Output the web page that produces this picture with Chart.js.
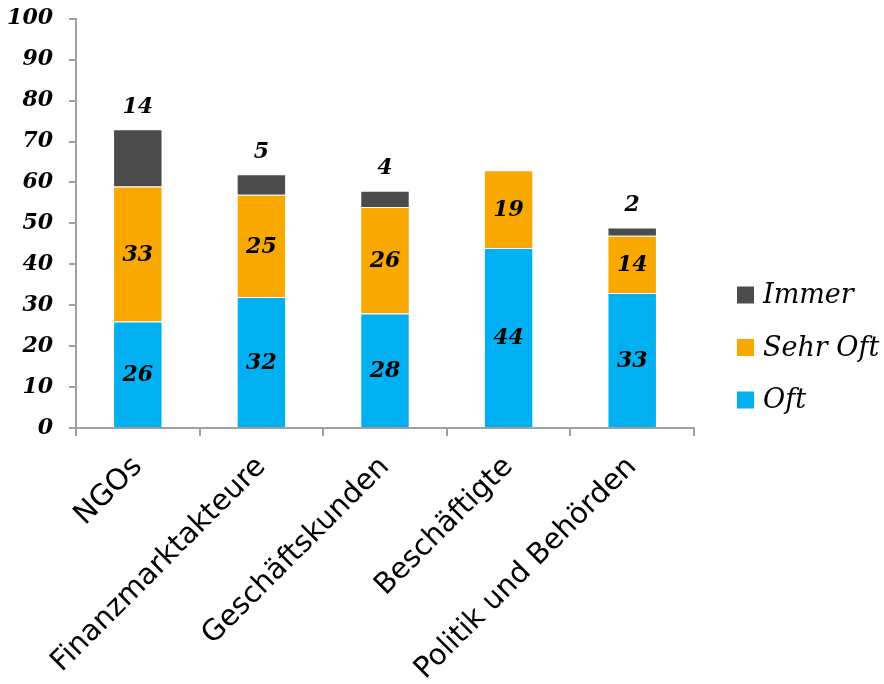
<!DOCTYPE html>
<html>
<head>
<meta charset="utf-8">
<script src="https://cdn.jsdelivr.net/npm/chart.js@4/dist/chart.umd.min.js"></script>
<style>
  html, body { margin: 0; padding: 0; background: #ffffff; }
  #wrap { width: 884px; height: 684px; }
</style>
</head>
<body>
<div id="wrap"><canvas id="c" width="884" height="684"></canvas></div>
<script>
const categories = ['NGOs', 'Finanzmarktakteure', 'Geschäftskunden', 'Beschäftigte', 'Politik und Behörden'];
const seriesNames = ['Oft', 'Sehr Oft', 'Immer'];
const oftValues = [26, 32, 28, 44, 33];
const sehrOftValues = [33, 25, 26, 19, 14];
const immerValues = [14, 5, 4, null, 2];
const yMin = 0;
const yMax = 100;
const yStep = 10;

const labelFont = 'italic bold 22px "DejaVu Serif"';

const dataLabelPlugin = {
  id: 'dataLabels',
  afterDatasetsDraw(chart) {
    const ctx = chart.ctx;
    ctx.save();
    ctx.font = labelFont;
    ctx.fillStyle = '#000000';
    ctx.textAlign = 'center';
    ctx.textBaseline = 'middle';
    chart.data.datasets.forEach((ds, di) => {
      const meta = chart.getDatasetMeta(di);
      meta.data.forEach((bar, i) => {
        const v = ds.data[i];
        if (v === null || v === undefined || v === 0) return;
        const props = bar.getProps(['x', 'y', 'base'], true);
        if (di < 2) {
          ctx.fillText(String(v), props.x, (props.y + props.base) / 2 + 1);
        } else {
          ctx.fillText(String(v), props.x, props.y - 22);
        }
      });
    });
    ctx.restore();
  }
};

const sideLegendPlugin = {
  id: 'sideLegend',
  afterDraw(chart) {
    const ctx = chart.ctx;
    ctx.save();
    ctx.font = 'italic 27px "DejaVu Serif"';
    ctx.textAlign = 'left';
    ctx.textBaseline = 'middle';
    const order = [2, 1, 0];
    const x = 737;
    const y0 = 295;
    const step = 52.5;
    order.forEach((di, k) => {
      const ds = chart.data.datasets[di];
      const cy = y0 + k * step;
      ctx.fillStyle = ds.backgroundColor;
      ctx.fillRect(x, cy - 8.5, 17, 17);
      ctx.fillStyle = '#000000';
      ctx.fillText(ds.label, x + 26, cy + 1);
    });
    ctx.restore();
  }
};

new Chart(document.getElementById('c'), {
  type: 'bar',
  data: {
    labels: categories,
    datasets: [
      { label: seriesNames[0], data: oftValues, backgroundColor: '#00B0F0', borderColor: 'rgba(255,255,255,0.35)', borderWidth: 1 },
      { label: seriesNames[1], data: sehrOftValues, backgroundColor: '#F9A800', borderColor: 'rgba(255,255,255,0.35)', borderWidth: 1 },
      { label: seriesNames[2], data: immerValues, backgroundColor: '#4B4B4B', borderColor: 'rgba(255,255,255,0.5)', borderWidth: 1 }
    ]
  },
  options: {
    responsive: false,
    devicePixelRatio: 1,
    animation: false,
    layout: { padding: { left: 0, right: 190, top: 0, bottom: 0 } },
    plugins: {
      legend: { display: false },
      tooltip: { enabled: false }
    },
    datasets: {
      bar: { barPercentage: 0.4, categoryPercentage: 1.0 }
    },
    scales: {
      x: {
        stacked: true,
        grid: { display: true, drawOnChartArea: false, drawTicks: true, tickLength: 8, color: '#a0a0a0', lineWidth: 2, offset: true },
        border: { display: true, color: '#a0a0a0', width: 2 },
        ticks: {
          autoSkip: false,
          maxRotation: 45,
          minRotation: 45,
          padding: 14,
          color: '#000000',
          font: { family: 'DejaVu Sans', size: 29 }
        },
        afterFit(scale) { scale.height = 256; }
      },
      y: {
        stacked: true,
        min: yMin,
        max: yMax,
        grid: { display: true, drawOnChartArea: false, drawTicks: true, tickLength: 7, color: '#a0a0a0', lineWidth: 2 },
        border: { display: true, color: '#a0a0a0', width: 2 },
        ticks: {
          stepSize: yStep,
          padding: 16,
          color: '#000000',
          font: { family: 'DejaVu Serif', style: 'italic', weight: 'bold', size: 22, lineHeight: 0.25 }
        },
        afterFit(scale) { scale.width = 76; }
      }
    }
  },
  plugins: [dataLabelPlugin, sideLegendPlugin]
});
</script>
</body>
</html>
